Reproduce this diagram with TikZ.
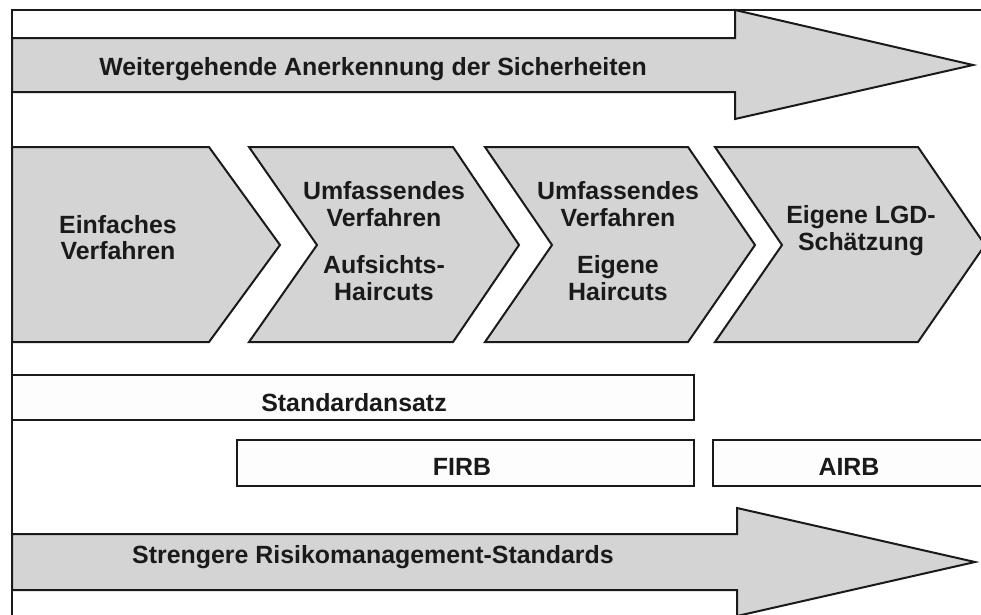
\documentclass[tikz,border=0pt]{standalone}
\usepackage{fontspec}
\setmainfont{Liberation Sans}
\definecolor{panel}{HTML}{D4D4D4}
\definecolor{ink}{HTML}{1A1A1A}
\definecolor{barfill}{HTML}{FDFDFD}
\begin{document}
\begin{tikzpicture}[x=1pt,y=-1pt,line join=miter,
  panelshape/.style={draw=ink,line width=2pt,fill=panel},
  barbox/.style={draw=ink,line width=2pt,fill=barfill},
  lbl/.style={anchor=base,inner sep=0pt,text=ink,
    font=\fontsize{24.9}{26.5}\selectfont\bfseries}]
\useasboundingbox (0,0) rectangle (981,614);
\fill[white] (0,0) rectangle (981,614);

% frame: left and top edge
\draw[ink,line width=2pt] (12,620) -- (12,9.5) -- (990,9.5);

% upper wide arrow
\draw[panelshape] (12,38) -- (735,38) -- (735,10) -- (973,65)
  -- (735,119) -- (735,92) -- (12,92) -- cycle;
\node[lbl] (recog) at (373,75) {Weitergehende Anerkennung der Sicherheiten};

% process chevrons
\draw[panelshape] (12,147) -- (209,147) -- (280,245) -- (209,342) -- (12,342) -- cycle;
\draw[panelshape] (249,147) -- (453,147) -- (519,245) -- (453,342)
  -- (249,342) -- (317,245) -- cycle;
\draw[panelshape] (485,147) -- (688,147) -- (755,245) -- (688,342)
  -- (485,342) -- (552,245) -- cycle;
\draw[panelshape] (715,147) -- (918,147) -- (985,245) -- (918,342)
  -- (715,342) -- (782,245) -- cycle;

\node[lbl] (c1a) at (118,233) {Einfaches};
\node[lbl] (c1b) at (118,259) {Verfahren};

\node[lbl] (c2a) at (384,199) {Umfassendes};
\node[lbl] (c2b) at (384,226) {Verfahren};
\node[lbl] (c2c) at (384,273) {Aufsichts-};
\node[lbl] (c2d) at (384,300) {Haircuts};

\node[lbl] (c3a) at (618,199) {Umfassendes};
\node[lbl] (c3b) at (618,226) {Verfahren};
\node[lbl] (c3c) at (618,273) {Eigene};
\node[lbl] (c3d) at (618,300) {Haircuts};

\node[lbl] (c4a) at (861,223) {Eigene LGD-};
\node[lbl] (c4b) at (861,250) {Schätzung};

% approach bars
\draw[barbox] (12,375) rectangle (694,420);
\node[lbl] (std) at (354,411) {Standardansatz};
\draw[barbox] (237,440) rectangle (694,486);
\node[lbl] (firb) at (462,475) {FIRB};
\draw[barbox] (713,440) rectangle (990,486);
\node[lbl] (airb) at (849,475) {AIRB};

% lower wide arrow
\draw[panelshape] (12,534) -- (737,534) -- (737,508) -- (975,562)
  -- (737,616) -- (737,590) -- (12,590) -- cycle;
\node[lbl] (risk) at (373,563) {Strengere Risikomanagement-Standards};
\end{tikzpicture}
\end{document}
